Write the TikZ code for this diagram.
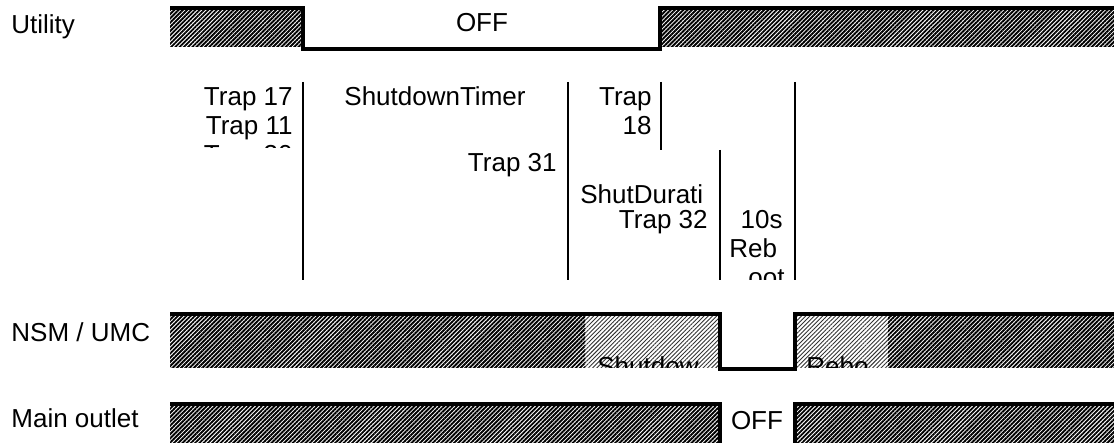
\documentclass[tikz,border=0pt]{standalone}
\usepackage{fontspec}
\setmainfont{Liberation Sans}
\usetikzlibrary{patterns.meta}

\begin{document}
\begin{tikzpicture}[x=1pt,y=-1pt,thick]
  \tikzstyle{txt}=[font=\fontsize{26}{29}\selectfont, inner sep=0pt]
  \tikzstyle{wave}=[line width=4.5pt, line join=miter]
  \tikzstyle{divider}=[line width=2pt]
  \tikzstyle{dark}=[pattern={Lines[angle=45,distance=3pt,line width=1.9pt]}, pattern color=black]
  \tikzstyle{light}=[pattern={Lines[angle=45,distance=3pt,line width=0.9pt]}, pattern color=black!80]

  \useasboundingbox (0,0) rectangle (1114,443);

  % row names
  \node[txt, anchor=base west] (utility) at (11,34) {Utility};
  \node[txt, anchor=base west] (nsm) at (11,342) {NSM / UMC};
  \node[txt, anchor=base west] (outlet) at (11,428) {Main outlet};

  % utility
  \path[dark] (170,10) rectangle (303,47);
  \path[dark] (660,10) rectangle (1114,47);
  \draw[wave] (170,8) -- (303,8) -- (303,49) -- (660,49) -- (660,8) -- (1114,8);
  \node[txt, anchor=base] (uoff) at (482,32) {OFF};

  % traps and timers
  \node[txt, anchor=base east] (t17) at (293,106) {Trap 17};
  \node[txt, anchor=base east] (t11) at (293,135) {Trap 11};
  \begin{scope}
    \clip (170,140) rectangle (301,148);
    \node[txt, anchor=base east] (t30) at (293,164) {Trap 30};
  \end{scope}
  \node[txt, anchor=base] (timer) at (435,106) {ShutdownTimer};
  \node[txt, anchor=base east] (t31) at (557,172) {Trap 31};
  \node[txt, anchor=base east] (t18a) at (652,106) {Trap};
  \node[txt, anchor=base east] (t18b) at (652,135) {18};
  \node[txt, anchor=base west] (dur) at (580,204) {ShutDurati};
  \node[txt, anchor=base east] (t32) at (708,229) {Trap 32};
  \node[txt, anchor=base east] (ten) at (783,229) {10s};
  \node[txt, anchor=base west] (reb) at (729,258) {Reb};
  \begin{scope}
    \clip (722,262) rectangle (793,280);
    \node[txt, anchor=base east] (oot) at (785,287) {oot};
  \end{scope}

  \draw[divider] (303,82) -- (303,280);
  \draw[divider] (568,82) -- (568,280);
  \draw[divider] (661,82) -- (661,150);
  \draw[divider] (720,150) -- (720,280);
  \draw[divider] (795,82) -- (795,280);

  % nsm / umc
  \path[dark] (170,316) rectangle (585,368);
  \path[light] (585,316) rectangle (720,368);
  \path[light] (795,316) rectangle (888,368);
  \path[dark] (888,316) rectangle (1114,368);
  \begin{scope}
    \clip (585,316) rectangle (1114,368);
    \node[txt, anchor=base west] (shut) at (597,376) {Shutdow};
    \node[txt, anchor=base west] (rebo) at (806,376) {Rebo};
  \end{scope}
  \draw[wave] (170,314) -- (720,314) -- (720,369) -- (795,369) -- (795,314) -- (1114,314);

  % main outlet
  \path[dark] (170,406) rectangle (720,443);
  \path[dark] (795,406) rectangle (1114,443);
  \draw[wave] (170,404) -- (720,404) -- (720,445);
  \draw[wave] (795,445) -- (795,404) -- (1114,404);
  \node[txt, anchor=base] (ooff) at (757,430) {OFF};
\end{tikzpicture}
\end{document}
